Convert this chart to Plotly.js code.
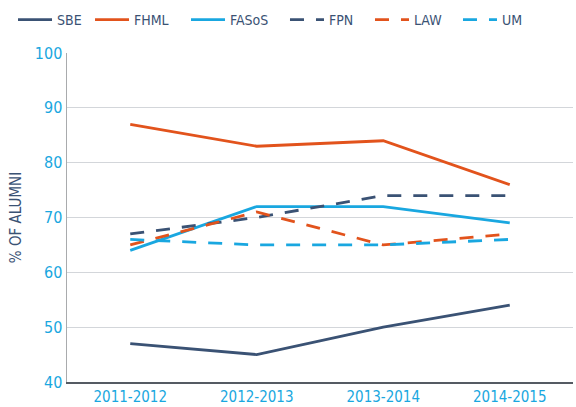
<!DOCTYPE html>
<html><head><meta charset="utf-8">
<script src="https://cdn.plot.ly/plotly-3.0.1.min.js"></script>
<style>body{margin:0;padding:0;}#chart{width:576px;height:407px;}</style>
</head><body><div id="chart"></div>
<script>
const years = ["2011-2012", "2012-2013", "2013-2014", "2014-2015"];
const SBE = [47, 45, 50, 54];
const FHML = [87, 83, 84, 76];
const FASoS = [64, 72, 72, 69];
const FPN = [67, 70, 74, 74];
const LAW = [65, 71, 65, 67];
const UM = [66, 65, 65, 66];
const seriesNames = ["SBE", "FHML", "FASoS", "FPN", "LAW", "UM"];

const navy = "#3a5274", orange = "#e2531c", blue = "#19a7e0";
const dashPat = "14px,12px";
const defs = [
  {y: SBE, color: navy, dash: "solid"},
  {y: FHML, color: orange, dash: "solid"},
  {y: FASoS, color: blue, dash: "solid"},
  {y: FPN, color: navy, dash: dashPat},
  {y: LAW, color: orange, dash: dashPat},
  {y: UM, color: blue, dash: dashPat}
];
const legendIds = ["legend", "legend2", "legend3", "legend4", "legend5", "legend6"];
const legendX = [-0.1067, 0.0455, 0.2352, 0.4308, 0.5988, 0.7727];
const traces = defs.map((d, i) => ({
  type: "scatter", mode: "lines", x: years, y: d.y, name: seriesNames[i],
  legend: legendIds[i],
  line: {color: d.color, width: 2.8, dash: d.dash}
}));
const font = "'DejaVu Sans Condensed', 'DejaVu Sans', sans-serif";
const layout = {
  width: 576, height: 407,
  margin: {l: 67, r: 3, t: 53, b: 25},
  paper_bgcolor: "#fff", plot_bgcolor: "#fff",
  font: {family: font},
  showlegend: true,
  xaxis: {type: "category", range: [-0.5, 3.5], showgrid: false, showline: true,
    linecolor: "#555b63", linewidth: 1.5, ticks: "", zeroline: false,
    tickfont: {family: font, size: 15, color: blue}},
  yaxis: {range: [40, 100], dtick: 10, showgrid: true, gridcolor: "#d3d6da", gridwidth: 1,
    showline: true, linecolor: "#a9abad", linewidth: 1.5, ticks: "", zeroline: false,
    tickfont: {family: font, size: 16, color: blue},
    title: {text: "% OF ALUMNI", font: {family: font, size: 15, color: "#3a5274"}, standoff: 9}}
};
legendIds.forEach((id, i) => {
  layout[id] = {orientation: "h", x: legendX[i], xanchor: "left", y: 1.10, yanchor: "middle",
    itemwidth: 34, bgcolor: "rgba(0,0,0,0)",
    font: {family: font, size: 14, color: "#3a5274"}};
});
Plotly.newPlot("chart", traces, layout, {displayModeBar: false, staticPlot: true});
</script></body></html>
